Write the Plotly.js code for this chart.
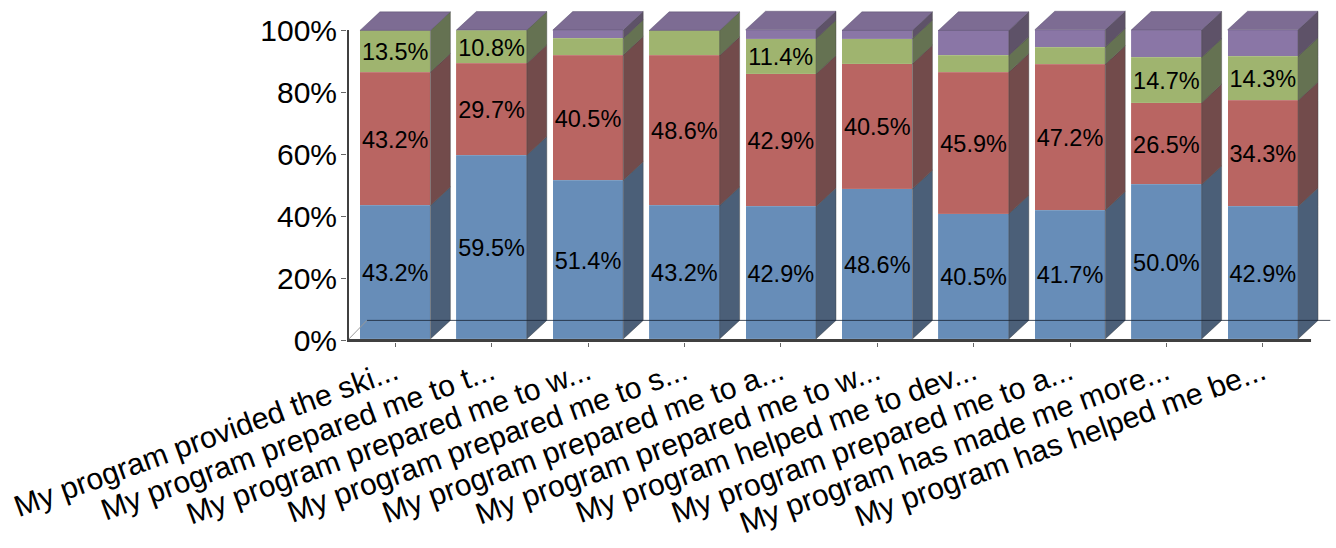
<!DOCTYPE html>
<html>
<head>
<meta charset="utf-8">
<script src="https://cdn.plot.ly/plotly-3.0.1.min.js"></script>
<style>html,body{margin:0;padding:0;background:#fff}#chart{width:1336px;height:548px}</style>
</head>
<body>
<div id="chart"></div>
<script>
const categories = [
  "My program provided the ski...",
  "My program prepared me to t...",
  "My program prepared me to w...",
  "My program prepared me to s...",
  "My program prepared me to a...",
  "My program prepared me to w...",
  "My program helped me to dev...",
  "My program prepared me to a...",
  "My program has made me more...",
  "My program has helped me be..."
];
const blueValues   = [43.2, 59.5, 51.4, 43.2, 42.9, 48.6, 40.5, 41.7, 50.0, 42.9];
const redValues    = [43.2, 29.7, 40.5, 48.6, 42.9, 40.5, 45.9, 47.2, 26.5, 34.3];
const greenValues  = [13.5, 10.8, 5.4, 8.1, 11.4, 8.1, 5.4, 5.6, 14.7, 14.3];
const purpleValues = [0, 0, 2.7, 0, 2.9, 2.7, 8.1, 5.6, 8.8, 8.6];
const blueLabels   = ["43.2%","59.5%","51.4%","43.2%","42.9%","48.6%","40.5%","41.7%","50.0%","42.9%"];
const redLabels    = ["43.2%","29.7%","40.5%","48.6%","42.9%","40.5%","45.9%","47.2%","26.5%","34.3%"];
const greenLabels  = ["13.5%","10.8%","","","11.4%","","","","14.7%","14.3%"];
const purpleLabels = ["","","","","","","","","",""];
const yTicks = [0, 20, 40, 60, 80, 100];
const yTickLabels = ["0%","20%","40%","60%","80%","100%"];

const series = [
  {v: blueValues,   t: blueLabels,   front: "#678db8", side: "#4b5f78"},
  {v: redValues,    t: redLabels,    front: "#b96562", side: "#724b4b"},
  {v: greenValues,  t: greenLabels,  front: "#9fb46f", side: "#657252"},
  {v: purpleValues, t: purpleLabels, front: "#8a76a6", side: "#5e5268"}
];
const xs = categories.map((_, i) => i);
const barW = 0.731, depthX = 0.207, depthY = 6.0;
const frontDrop = 0.65;   // the axis frame sits slightly in front of the bars' base
const font = "Liberation Sans, Arial, sans-serif";

const traces = [];
series.forEach(s => {
  traces.push({
    type: "bar", x: xs, y: s.v, width: barW,
    marker: {color: s.front, line: {color: "rgba(255,255,255,0.12)", width: 0.7}},
    hoverinfo: "skip", showlegend: false
  });
});
const base = xs.map(() => 0);
const labelX = [], labelY = [], labelT = [];
series.forEach(s => {
  const px = [], py = [];
  xs.forEach(i => {
    const y0 = base[i], y1 = y0 + s.v[i];
    base[i] = y1;
    if (s.t[i]) { labelX.push(i); labelY.push((y0 + y1) / 2 - 1.0); labelT.push(s.t[i]); }
    if (s.v[i] <= 0) return;
    const r = i + barW / 2;
    px.push(r, r + depthX, r + depthX, r, r, null);
    py.push(y0, y0 + depthY, y1 + depthY, y1, y0, null);
  });
  traces.push({type: "scatter", mode: "lines", x: px, y: py, fill: "toself", fillcolor: s.side,
    line: {color: "rgba(60,60,60,0.55)", width: 0.7}, cliponaxis: false, hoverinfo: "skip", showlegend: false});
});
const topX = [], topY = [];
xs.forEach(i => {
  const l = i - barW / 2, r = i + barW / 2, h = base[i];
  topX.push(l, l + depthX, r + depthX, r, l, null);
  topY.push(h, h + depthY, h + depthY, h, h, null);
});
traces.push({type: "scatter", mode: "lines", x: topX, y: topY, fill: "toself", fillcolor: "#7d6c93",
  line: {color: "rgba(80,70,100,0.6)", width: 0.7}, cliponaxis: false, hoverinfo: "skip", showlegend: false});
// floor of the 3-D box
traces.push({type: "scatter", mode: "lines", x: [-0.5, -0.5 + depthX], y: [-frontDrop, depthY],
  line: {color: "#999", width: 1}, cliponaxis: false, hoverinfo: "skip", showlegend: false});
traces.push({type: "scatter", mode: "lines", x: [-0.5 + depthX, 9.7], y: [depthY, depthY],
  line: {color: "rgba(25,35,50,0.8)", width: 1}, cliponaxis: false, hoverinfo: "skip", showlegend: false});
// heavy axis lines
traces.push({type: "scatter", mode: "lines", x: [-0.5, -0.5, 9.5], y: [100, -frontDrop, -frontDrop],
  line: {color: "#404040", width: 4}, cliponaxis: false, hoverinfo: "skip", showlegend: false});
// value labels
traces.push({type: "scatter", mode: "text", x: labelX, y: labelY, text: labelT, textposition: "middle center",
  textfont: {family: font, size: 23.5, color: "#000"}, cliponaxis: false, hoverinfo: "skip", showlegend: false});

const layout = {
  width: 1336, height: 548, barmode: "stack", paper_bgcolor: "#fff", plot_bgcolor: "#fff",
  margin: {l: 347, r: 5, t: 10, b: 206}, bargap: 0.27, showlegend: false,
  xaxis: {range: [-0.5, 9.707], tickvals: xs, ticktext: categories, tickangle: -20,
    showgrid: false, zeroline: false, showline: false, ticks: "outside", ticklen: 4, tickcolor: "#666", tickwidth: 1,
    ticklabelstandoff: -4,
    tickfont: {family: font, size: 30.2, color: "#000"}},
  yaxis: {range: [-1, 106.5], tickvals: yTicks.map(v => v - frontDrop * (1 - v / 100)), ticktext: yTickLabels,
    showgrid: false, zeroline: false, showline: false, ticks: "outside", ticklen: 5, tickcolor: "#666", tickwidth: 1,
    ticklabelstandoff: -2,
    tickfont: {family: font, size: 30, color: "#000"}}
};
Plotly.newPlot("chart", traces, layout, {displayModeBar: false, staticPlot: true});
</script>
</body>
</html>
